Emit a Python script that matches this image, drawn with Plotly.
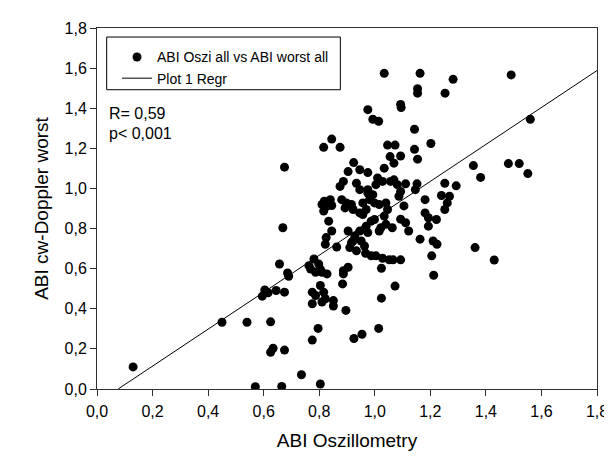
import plotly.graph_objects as go
import numpy as np

abi_oszi = [
    0.13, 0.45, 0.54, 0.57, 0.595, 0.604, 0.616, 0.645, 0.675, 0.625,
    0.634, 0.625, 0.675, 0.665, 0.736, 0.804, 0.775, 0.796, 0.925, 0.954,
    1.014, 1.024, 0.686, 0.69, 0.657, 0.669, 0.675,
    0.775, 0.787, 0.816, 0.822, 0.851, 0.775, 0.81, 0.851, 0.896, 0.804,
    0.884, 0.787, 0.81, 0.828, 0.769, 0.804, 0.887, 0.904, 0.887, 0.781,
    0.763, 0.798,
    0.834, 0.845, 0.825, 0.822, 0.863, 0.904, 0.928, 0.946, 0.963, 0.969,
    0.987, 0.951, 0.922, 0.91, 0.963, 0.934, 0.967, 0.987, 0.975, 0.916,
    0.818, 0.84, 0.816, 0.845, 0.81, 0.827, 0.881, 0.898, 0.916, 0.893,
    0.922, 0.946, 0.957, 0.981, 0.969, 0.975, 0.887, 0.875, 0.934, 0.946,
    0.975, 0.993, 0.957, 0.999, 1.016, 1.04, 1.046, 1.034,
    0.924, 0.904, 0.946, 0.975, 0.845, 0.816, 0.875, 0.975, 0.993, 1.014,
    1.034, 1.163, 1.282, 1.154, 1.154, 1.253, 1.093, 1.095, 1.143, 1.202,
    1.046, 1.073, 1.143, 1.055, 1.093, 1.154, 1.069, 1.034,
    1.01, 1.028, 1.004, 1.057, 1.069, 1.081, 1.093, 1.087, 1.111, 1.152,
    1.146, 1.105, 1.181, 1.24, 1.269, 1.261, 1.252, 1.252, 1.293, 1.181,
    1.193, 1.222, 1.193, 1.093, 1.111, 1.122, 0.999, 1.022, 1.04, 1.063,
    1.016, 1.163, 1.21, 1.224, 1.361, 1.205, 1.212, 1.004, 1.028, 1.052,
    1.066, 1.093, 1.024, 1.073,
    1.491, 1.56, 1.355, 1.381, 1.481, 1.52, 1.551, 1.43,
]

abi_doppler = [
    0.11, 0.333, 0.333, 0.011, 0.463, 0.494, 0.48, 0.491, 0.483, 0.335,
    0.203, 0.183, 0.194, 0.013, 0.071, 0.025, 0.244, 0.302, 0.252, 0.273,
    0.302, 0.453, 0.579, 0.562, 0.623, 0.804, 1.106,
    0.483, 0.466, 0.483, 0.45, 0.441, 0.425, 0.434, 0.414, 0.392, 0.516,
    0.524, 0.582, 0.582, 0.574, 0.598, 0.598, 0.59, 0.607, 0.574, 0.648,
    0.615, 0.623,
    0.837, 0.788, 0.755, 0.722, 0.708, 0.788, 0.763, 0.788, 0.796, 0.812,
    0.837, 0.738, 0.738, 0.705, 0.713, 0.689, 0.677, 0.664, 0.78, 0.73,
    0.936, 0.944, 0.887, 0.915, 0.92, 0.911, 0.944, 0.928, 0.92, 0.903,
    0.895, 0.878, 0.928, 0.944, 0.895, 0.977, 1.035, 1.01, 1.026, 0.994,
    0.994, 0.969, 0.87, 0.928, 0.92, 0.928, 0.895, 0.862,
    1.129, 1.084, 1.093, 1.079, 1.246, 1.205, 1.205, 1.393, 1.345, 1.335,
    1.574, 1.574, 1.544, 1.497, 1.475, 1.475, 1.419, 1.403, 1.295, 1.224,
    1.216, 1.216, 1.195, 1.159, 1.162, 1.146, 1.126, 1.101,
    1.052, 1.035, 1.019, 1.035, 1.043, 1.019, 0.985, 0.961, 1.023, 1.023,
    0.994, 0.913, 0.944, 0.965, 0.961, 0.928, 0.895, 1.026, 1.013, 0.878,
    0.854, 0.845, 0.812, 0.847, 0.829, 0.788, 0.845, 0.804, 0.821, 0.804,
    0.788, 0.747, 0.738, 0.722, 0.705, 0.664, 0.567, 0.664, 0.652, 0.644,
    0.644, 0.644, 0.602, 0.513,
    1.566, 1.345, 1.114, 1.055, 1.124, 1.124, 1.074, 0.643,
]

regr_intercept = -0.070
regr_slope = 0.921

x_ticks = [0.0, 0.2, 0.4, 0.6, 0.8, 1.0, 1.2, 1.4, 1.6, 1.8]
y_ticks = [0.0, 0.2, 0.4, 0.6, 0.8, 1.0, 1.2, 1.4, 1.6, 1.8]

x_start = -regr_intercept / regr_slope
line_x = np.array([x_start, 1.8])
line_y = regr_intercept + regr_slope * line_x

FONT = "Liberation Sans, Arial, sans-serif"
AX = "#303030"

fig = go.Figure()
fig.add_trace(go.Scatter(
    x=abi_oszi, y=abi_doppler, mode="markers",
    marker=dict(color="black", size=9, line=dict(width=0)),
    name="ABI Oszi all vs ABI worst all",
))
fig.add_trace(go.Scatter(
    x=line_x, y=line_y, mode="lines",
    line=dict(color="black", width=1),
    name="Plot 1 Regr",
))

axis_common = dict(
    showgrid=False, zeroline=False, showline=True, linecolor=AX, linewidth=1,
    mirror=True, ticks="outside", ticklen=6, tickcolor=AX, tickwidth=1,
    tickformat=".1f", tickfont=dict(family=FONT, size=16, color="black"),
)

fig.update_layout(
    width=612, height=457,
    margin=dict(l=89, r=14, t=17, b=76),
    paper_bgcolor="white", plot_bgcolor="white",
    separators=",.",
    font=dict(family=FONT, color="black"),
    xaxis=dict(range=[0, 1.8], tickvals=x_ticks, ticklabelstandoff=2,
               title=dict(text="ABI Oszillometry", font=dict(family=FONT, size=19), standoff=14),
               **axis_common),
    yaxis=dict(range=[0, 1.8], tickvals=y_ticks,
               title=dict(text="ABI cw-Doppler worst", font=dict(family=FONT, size=19), standoff=10),
               **axis_common),
    showlegend=True,
    legend=dict(x=0.040, y=0.963, xanchor="left", yanchor="top",
                bgcolor="rgba(0,0,0,0)", borderwidth=0,
                font=dict(family=FONT, size=14, color="black"),
                tracegroupgap=0),
    shapes=[dict(type="rect", xref="paper", yref="paper",
                 x0=0.0194, x1=0.4867, y0=0.829, y1=0.975,
                 line=dict(color="black", width=1), fillcolor="rgba(0,0,0,0)")],
    annotations=[
        dict(text="R= 0,59", xref="paper", yref="paper", x=0.0196, y=0.762,
             xanchor="left", yanchor="middle", showarrow=False,
             font=dict(family=FONT, size=16, color="black")),
        dict(text="p< 0,001", xref="paper", yref="paper", x=0.0196, y=0.707,
             xanchor="left", yanchor="middle", showarrow=False,
             font=dict(family=FONT, size=16, color="black")),
    ],
)

fig.write_html("out.html")
